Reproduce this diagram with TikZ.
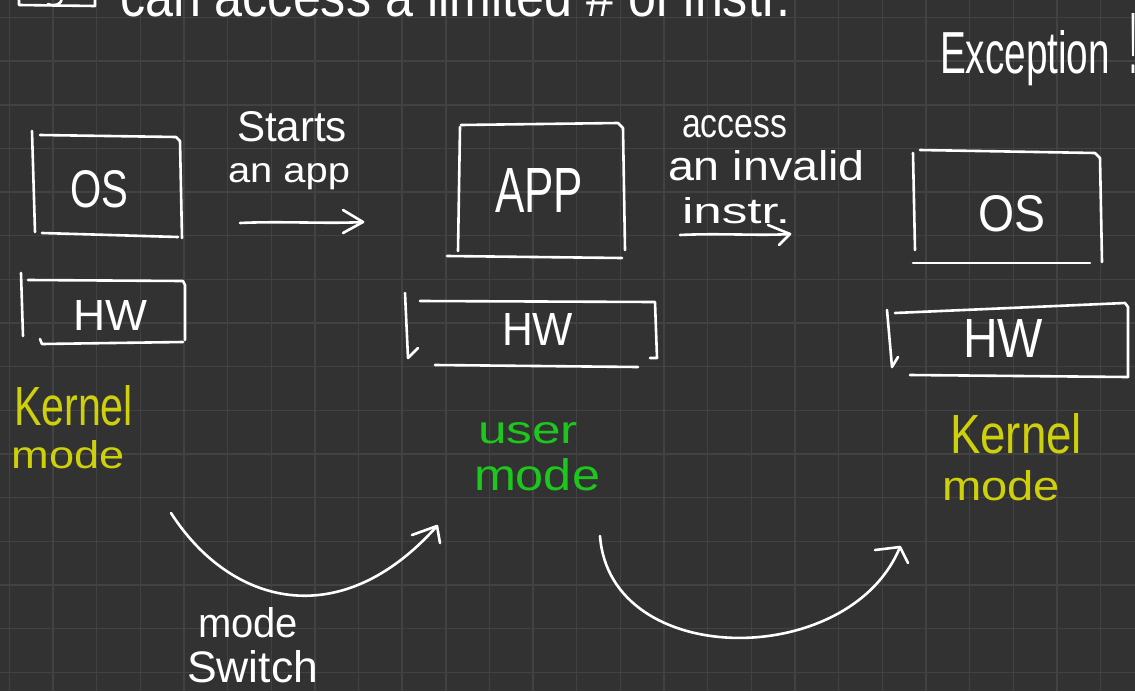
\documentclass[tikz,border=0pt]{standalone}
\usepackage{fontspec}
\setmainfont{Liberation Sans}
\usepackage{graphicx}
\definecolor{board}{RGB}{50,50,50}
\definecolor{gridline}{RGB}{66,66,66}
\definecolor{chalkyellow}{RGB}{206,208,10}
\definecolor{chalkgreen}{RGB}{28,200,28}
% a written word: width, height above the baseline, text
\newcommand\ink[3]{\resizebox{#1pt}{#2pt}{#3}}
\begin{document}
\begin{tikzpicture}[x=1pt,y=-1pt,
  pen/.style={draw=white, line width=2.6pt, line cap=round, line join=round},
  word/.style={anchor=base west, inner sep=0pt, outer sep=0pt, text=white},
  kword/.style={word, text=chalkyellow},
  uword/.style={word, text=chalkgreen}]
\fill[board] (0,0) rectangle (1135,691);
\useasboundingbox (0,0) rectangle (1135,691);
\clip (0,0) rectangle (1135,691);
% background grid
\foreach \i in {0,...,25}
  \draw[gridline, line width=1.4pt] ({9.3+43.65*\i},0) -- ({9.3+43.65*\i},691);
\foreach \j in {0,...,15}
  \draw[gridline, line width=1.4pt] (0,{17.5+43.65*\j}) -- (1135,{17.5+43.65*\j});

% heading line
\draw[pen] (19,-3) -- (19,5) -- (95,6) -- (95,-3);
\draw[pen] (48,4) .. controls (55,7) and (62,4) .. (62,-2);
\node[word] (heading) at (120,16) {\ink{670}{42}{can access a limited \# of instr.}};
\node[word] (exc) at (940,73) {\ink{170}{43}{Exception}};
\node[word] (bang) at (1129,73) {\ink{8}{60}{!}};

% first stack: OS over HW
\draw[pen] (32,131) -- (35,232);
\draw[pen] (40,135) -- (176,137) -- (180,141) -- (182,238);
\draw[pen] (42,233) -- (178,237);
\node[word] (os1) at (70,207) {\ink{58}{37}{OS}};
\draw[pen] (21,273) -- (23,336);
\draw[pen] (28,280) -- (183,281) -- (185,285) -- (185,340);
\draw[pen] (40,339) -- (42,344) -- (183,342);
\node[word] (hw1) at (73,330) {\ink{74}{30}{HW}};
\node[kword] (k1a) at (14,425) {\ink{119}{40}{Kernel}};
\node[kword] (k1b) at (12,468) {\ink{113}{28}{mode}};

% starts an app
\node[word] (st1) at (237,141) {\ink{110}{30}{Starts}};
\node[word] (st2) at (228,182) {\ink{122}{19}{an app}};
\coordinate (a1s) at (240,223);
\coordinate (a1e) at (363,222);
\draw[pen] (a1s) .. controls (280,221) and (330,224) .. (a1e);
\draw[pen] (343,210) -- (a1e) -- (343,233);

% second stack: APP over HW
\draw[pen] (460,127) -- (458,251);
\draw[pen] (461,125) -- (618,123) -- (623,128) -- (625,250);
\draw[pen] (447,256) -- (622,258);
\node[word] (app) at (495,212) {\ink{88}{44}{APP}};
\draw[pen] (405,293) -- (408,358) -- (418,348);
\draw[pen] (420,301) -- (655,302) -- (657,358) -- (650,358);
\draw[pen] (435,365) -- (638,367);
\node[word] (hw2) at (502,345) {\ink{71}{32}{HW}};
\node[uword] (u1) at (478,443) {\ink{100}{21}{user}};
\node[uword] (u2) at (474,490) {\ink{126}{32}{mode}};

% access an invalid instr.
\node[word] (ac1) at (682,137) {\ink{105}{22}{access}};
\node[word] (ac2) at (668,180) {\ink{197}{30}{an invalid}};
\node[word] (ac3) at (682,223) {\ink{108}{26}{instr.}};
\coordinate (a2s) at (680,235);
\coordinate (a2e) at (790,234);
\draw[pen] (a2s) .. controls (720,233) and (760,236) .. (a2e);
\draw[pen] (768,225) -- (a2e) -- (779,245);

% third stack: OS over HW
\draw[pen] (913,153) -- (915,250);
\draw[pen] (920,150) -- (1095,153) -- (1100,158) -- (1102,262);
\draw[pen] (913,263) -- (1090,263);
\node[word] (os3) at (978,231) {\ink{67}{36}{OS}};
\draw[pen] (887,310) -- (892,367) -- (898,357);
\draw[pen] (895,313) -- (1125,303) -- (1128,307) -- (1128,377);
\draw[pen] (910,375) -- (1128,377);
\node[word] (hw3) at (963,357) {\ink{80}{38}{HW}};
\node[kword] (k3a) at (950,453) {\ink{132}{40}{Kernel}};
\node[kword] (k3b) at (942,500) {\ink{118}{30}{mode}};

% mode switches
\coordinate (m1s) at (171,513);
\coordinate (m1e) at (437,526);
\draw[pen] (m1s) .. controls (230,605) and (340,635) .. (m1e);
\draw[pen] (412,535) -- (m1e) -- (440,543);
\node[word] (ms1) at (198,637) {\ink{100}{30}{mode}};
\node[word] (ms2) at (187,682) {\ink{131}{32}{Switch}};
\coordinate (m2s) at (600,536);
\coordinate (m2e) at (900,547);
\draw[pen] (m2s) .. controls (610,670) and (850,670) .. (m2e);
\draw[pen] (875,550) -- (m2e) -- (908,563);
\end{tikzpicture}
\end{document}
